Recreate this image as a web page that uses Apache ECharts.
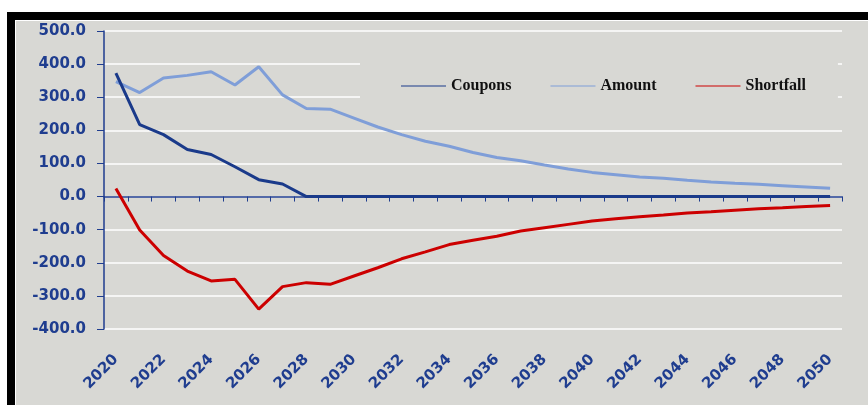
<!DOCTYPE html>
<html><head><meta charset="utf-8">
<script src="https://cdn.jsdelivr.net/npm/echarts@6/dist/echarts.min.js"></script>
<style>
html,body{margin:0;padding:0;background:#fff;width:868px;height:405px;overflow:hidden}
#frame{position:absolute;left:7px;top:12px;width:861px;height:393px;background:#000}
#inner{position:absolute;left:8px;top:8px;right:0;bottom:0;background:#fff}
#gray{position:absolute;left:1px;top:1px;right:0;bottom:0;background:#d8d8d4}
#chart{position:absolute;left:0;top:0;width:868px;height:405px}
</style></head>
<body>
<div id="frame"><div id="inner"><div id="gray"></div></div></div>
<div id="chart"></div>
<script>
const years = ['2020','2021','2022','2023','2024','2025','2026','2027','2028','2029',
  '2030','2031','2032','2033','2034','2035','2036','2037','2038','2039',
  '2040','2041','2042','2043','2044','2045','2046','2047','2048','2049','2050'];
const coupons = [373,217,187,142,127,90,51,38,0,0,0,0,0,0,0,0,0,0,0,0,0,0,0,0,0,0,0,0,0,0,0];
const amount = [347,314,358,366,377,337,392,307,266,264,237,210,187,167,152,133,118,108,95,83,73,66,59,55,49,44,40,37,33,29,25];
const shortfall = [24,-101,-178,-225,-255,-250,-340,-272,-260,-265,-240,-215,-188,-167,-145,-132,-120,-104,-94,-84,-74,-67,-61,-56,-50,-46,-41,-37,-34,-30,-27];
const yTicks = {min:-400, max:500, step:100};

const navy = '#1f3d8f';
const chart = echarts.init(document.getElementById('chart'), null, {renderer:'canvas'});
chart.setOption({
  backgroundColor: 'transparent',
  animation: false,
  grid: {left:104, right:26, top:31, bottom:76, containLabel:false},
  legend: {
    left: 360, top: 56,
    padding: [22, 32, 20, 41],
    backgroundColor: '#d8d8d4',
    icon: 'rect', itemWidth: 45, itemHeight: 1, itemGap: 39,
    textStyle: {fontFamily:'Liberation Serif', fontWeight:'bold', fontSize:16, color:'#111'},
    data: ['Coupons','Amount','Shortfall']
  },
  xAxis: [{
    type:'category', data: years, boundaryGap:true, position:'bottom',
    axisLine:{show:true, onZero:true, lineStyle:{color:navy, width:1.5}},
    axisTick:{show:true, interval:0, length:5, lineStyle:{color:navy, width:1}},
    axisLabel:{show:false},
    splitLine:{show:false}
  },{
    type:'category', data: years, boundaryGap:true, position:'bottom',
    axisLine:{show:false, onZero:false},
    axisTick:{show:false},
    axisLabel:{show:true, interval:1, rotate:45, margin:28,
      fontFamily:'DejaVu Sans', fontWeight:'bold', fontSize:15, color:navy},
    splitLine:{show:false}
  }],
  yAxis: {
    type:'value', min:yTicks.min, max:yTicks.max, interval:yTicks.step,
    axisLine:{show:true, lineStyle:{color:navy, width:1.5}},
    axisTick:{show:true, length:7, lineStyle:{color:navy, width:1}},
    axisLabel:{margin:18, formatter: v => v.toFixed(1),
      fontFamily:'DejaVu Sans', fontWeight:'bold', fontSize:15, color:navy},
    splitLine:{show:true, lineStyle:{color:'#ffffff', width:1.5}}
  },
  series: [
    {name:'Coupons', type:'line', data:coupons, xAxisIndex:0, symbol:'none', lineStyle:{color:'#1a3a8a', width:3}, itemStyle:{color:'#1a3a8a'}, z:4},
    {name:'Amount', type:'line', data:amount, xAxisIndex:0, symbol:'none', lineStyle:{color:'#7f9ed8', width:3}, itemStyle:{color:'#7f9ed8'}, z:3},
    {name:'Shortfall', type:'line', data:shortfall, xAxisIndex:0, symbol:'none', lineStyle:{color:'#cc0000', width:3}, itemStyle:{color:'#cc0000'}, z:3}
  ]
});
</script>
</body></html>
